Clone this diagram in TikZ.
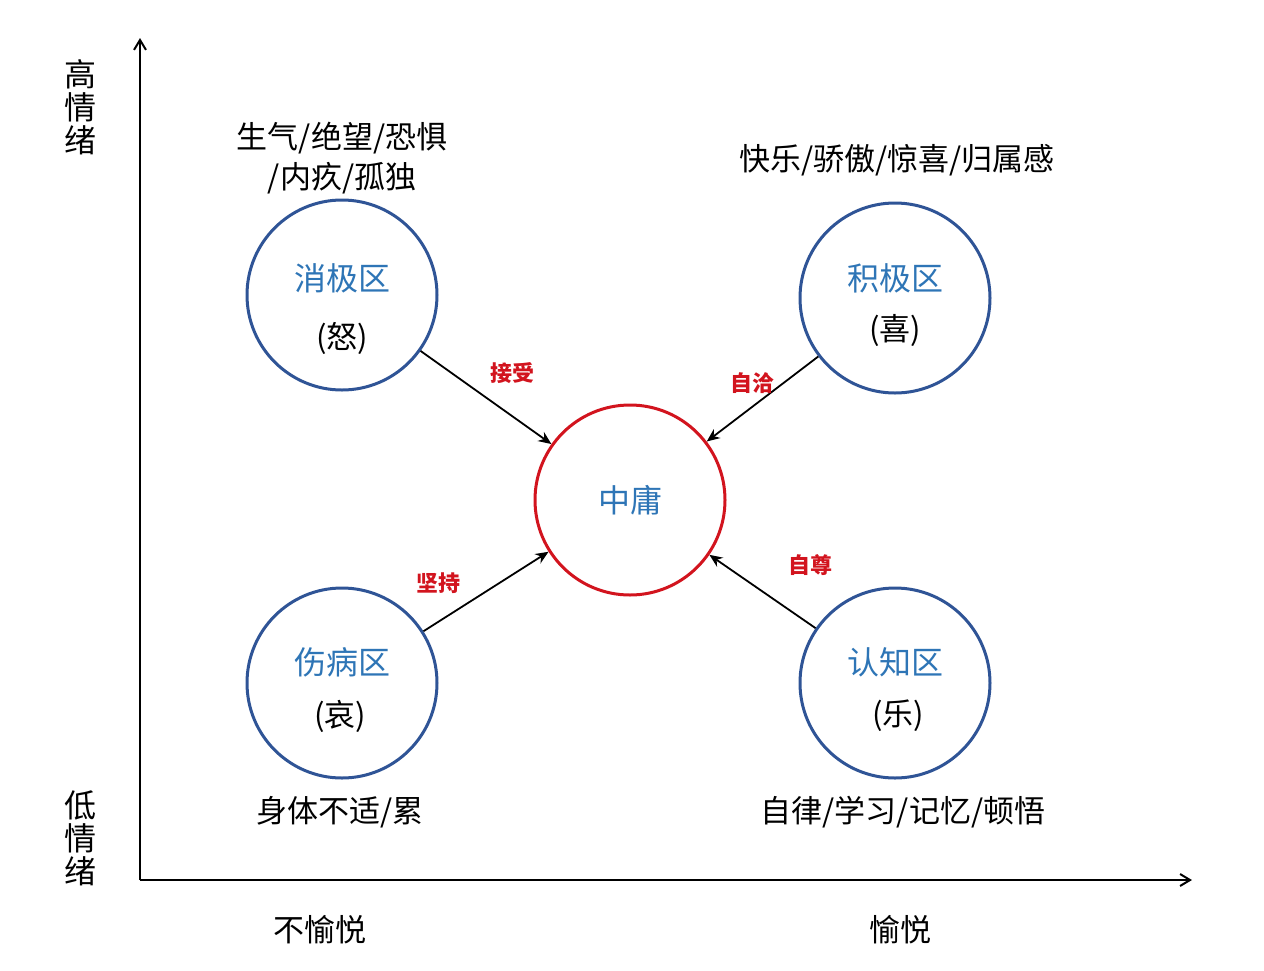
\documentclass[tikz,border=0pt]{standalone}
\usepackage{fontspec}
\newfontfamily\cjk{Noto Sans CJK SC}
\definecolor{cb}{RGB}{47,84,150}
\definecolor{tb}{RGB}{46,117,182}
\definecolor{rd}{RGB}{210,20,30}
\usetikzlibrary{arrows.meta}
\begin{document}
\begin{tikzpicture}[x=1pt,y=-1pt,font=\cjk\fontsize{31}{36}\selectfont,
 zone/.style={circle,draw=cb,line width=3pt,minimum size=190pt},
 ttl/.style={text=tb,font=\cjk\fontsize{32}{36}\selectfont},
 lab/.style={text=rd,font=\cjk\bfseries\fontsize{22}{26}\selectfont},
 arr/.style={-{Stealth[length=13pt,width=11pt]},line width=1.8pt},
 ax/.style={-{Straight Barb[length=10pt,width=12pt]},line width=2pt}]
\useasboundingbox (0,0) rectangle (1264,970);
\coordinate (o) at (140,880);
\coordinate (yt) at (140,38);
\coordinate (xt) at (1192,880);
\draw[ax] (o) -- (yt);
\draw[ax] (o) -- (xt);
\node[zone] (neg) at (342,295) {};
\node[zone] (pos) at (895,298) {};
\node[zone,draw=rd] (mid) at (630,500) {};
\node[zone] (ill) at (342,683) {};
\node[zone] (cog) at (895,683) {};
\node[ttl] (t1) at (342,278) {消极区};
\node (s1) at (342,338) {(怒)};
\node[ttl] (t2) at (895,278) {积极区};
\node (s2) at (895,330) {(喜)};
\node[ttl] (t3) at (630,500) {中庸};
\node[ttl] (t4) at (342,662) {伤病区};
\node (s4) at (340,716) {(哀)};
\node[ttl] (t5) at (895,662) {认知区};
\node (s5) at (898,716) {(乐)};
\draw[arr] (neg) -- (mid);
\draw[arr] (pos) -- (mid);
\draw[arr] (ill) -- (mid);
\draw[arr] (cog) -- (mid);
\node[lab] (l1) at (512,373) {接受};
\node[lab] (l2) at (752,383) {自洽};
\node[lab] (l3) at (438,583) {坚持};
\node[lab] (l4) at (810,565) {自尊};
\node (d1) at (342,138) {生气/绝望/恐惧};
\node (d2) at (342,178) {/内疚/孤独};
\node (d3) at (897,160) {快乐/骄傲/惊喜/归属感};
\node (d4) at (340,812) {身体不适/累};
\node (d5) at (903,812) {自律/学习/记忆/顿悟};
\node[align=center,font=\cjk\fontsize{32}{33}\selectfont] (hi) at (80,107) {高\\情\\绪};
\node[align=center,font=\cjk\fontsize{32}{33}\selectfont] (lo) at (80,838) {低\\情\\绪};
\node (xl) at (320,930) {不愉悦};
\node (xr) at (900,930) {愉悦};
\end{tikzpicture}
\end{document}
